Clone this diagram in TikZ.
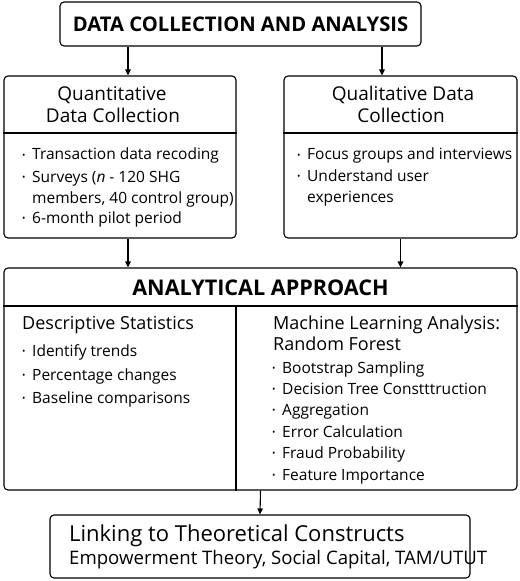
\documentclass[tikz,border=0pt]{standalone}
\usepackage{fontspec}
\setmainfont{Open Sans}
\usetikzlibrary{arrows.meta}
\newcommand{\bul}{\makebox[10bp][l]{\raisebox{1.5bp}{\fontsize{9bp}{9bp}\selectfont •}}}
\begin{document}
\begin{tikzpicture}[x=1bp,y=-1bp,
  box/.style={draw, line width=1.1bp, rounded corners=4bp, inner sep=0pt},
  ln/.style={line width=1.1bp},
  arr/.style={line width=1.1bp, -{Triangle[length=6bp,width=5.5bp]}},
  txt/.style={inner sep=0pt, anchor=base west, font=\fontsize{15.5bp}{19bp}\selectfont},
  hdr/.style={inner sep=0pt, anchor=base west, font=\fontsize{18bp}{21bp}\selectfont},
  hdrc/.style={inner sep=0pt, anchor=base, font=\fontsize{19bp}{22bp}\selectfont},
  ttl/.style={inner sep=0pt, anchor=base, font=\fontsize{20.2bp}{24bp}\selectfont\bfseries},
  bigttl/.style={inner sep=0pt, anchor=base, font=\fontsize{21.6bp}{26bp}\selectfont\bfseries},
  lnk/.style={inner sep=0pt, anchor=base west, font=\fontsize{22bp}{26bp}\selectfont},
  sub/.style={inner sep=0pt, anchor=base west, font=\fontsize{18.6bp}{22bp}\selectfont}
]
\useasboundingbox (0,0) rectangle (520,581);

% boxes
\node[box, minimum width=361bp, minimum height=44bp] (top) at (240.5,24) {};
\node[box, minimum width=232bp, minimum height=162bp] (quant) at (120,157) {};
\node[box, minimum width=233bp, minimum height=162bp] (qual) at (400.5,157) {};
\node[box, minimum width=513bp, minimum height=222bp] (ana) at (260.5,379) {};
\node[box, minimum width=420bp, minimum height=63bp] (bot) at (260,546.5) {};

% helper coordinates
\coordinate (d1) at (0,133);
\coordinate (d2) at (0,306);
\coordinate (vx) at (236,0);
\coordinate (ax1) at (128,0);
\coordinate (ax2) at (382,0);

% dividers
\draw[ln] (quant.west |- d1) -- (quant.east |- d1);
\draw[ln] (qual.west |- d1) -- (qual.east |- d1);
\draw[ln] (ana.west |- d2) -- (ana.east |- d2);
\draw[ln] (vx |- d2) -- (vx |- ana.south);

% arrows
\draw[arr] (ax1 |- top.south) -- (ax1 |- quant.north);
\draw[arr] (ax2 |- top.south) -- (ax2 |- qual.north);
\draw[arr] (ax1 |- quant.south) -- (ax1 |- ana.north);
\draw[arr] (qual.south) -- (qual.south |- ana.north);
\draw[arr] (ana.south) -- (bot.north);

% top title
\node[ttl] (tt) at (240.5,32) {DATA COLLECTION AND ANALYSIS};

% quantitative
\node[hdrc] (q1) at (112,101) {Quantitative};
\node[hdrc] (q2) at (113,123) {Data Collection};
\node[txt] (qb1) at (22,160) {\bul Transaction data recoding};
\node[txt] (qb2) at (22,182) {\bul Surveys (\textit{n} - 120 SHG};
\node[txt] (qb3) at (32,203) {members, 40 control group)};
\node[txt] (qb4) at (22,223) {\bul 6-month pilot period};

% qualitative
\node[hdrc] (l1) at (403,101) {Qualitative Data};
\node[hdrc] (l2) at (401,123) {Collection};
\node[txt] (lb1) at (297,160) {\bul Focus groups and interviews};
\node[txt] (lb2) at (297,181) {\bul Understand user};
\node[txt] (lb3) at (307,202) {experiences};

% analytical
\node[bigttl] (at) at (260.5,295) {ANALYTICAL APPROACH};
\node[hdr] (ds) at (22,329) {Descriptive Statistics};
\node[txt] (db1) at (22,356) {\bul Identify trends};
\node[txt] (db2) at (22,380) {\bul Percentage changes};
\node[txt] (db3) at (22,403) {\bul Baseline comparisons};

\node[hdr] (ml1) at (273,329) {Machine Learning Analysis:};
\node[hdr] (ml2) at (273,350) {Random Forest};
\node[txt] (mb1) at (272,373) {\bul Bootstrap Sampling};
\node[txt] (mb2) at (272,394) {\bul Decision Tree Constttruction};
\node[txt] (mb3) at (272,415) {\bul Aggregation};
\node[txt] (mb4) at (272,437) {\bul Error Calculation};
\node[txt] (mb5) at (272,458) {\bul Fraud Probability};
\node[txt] (mb6) at (272,480) {\bul Feature Importance};

% bottom
\node[lnk] (b1) at (69,541) {Linking to Theoretical Constructs};
\node[sub] (b2) at (69,564) {Empowerment Theory, Social Capital, TAM/UTUT};
\end{tikzpicture}
\end{document}
